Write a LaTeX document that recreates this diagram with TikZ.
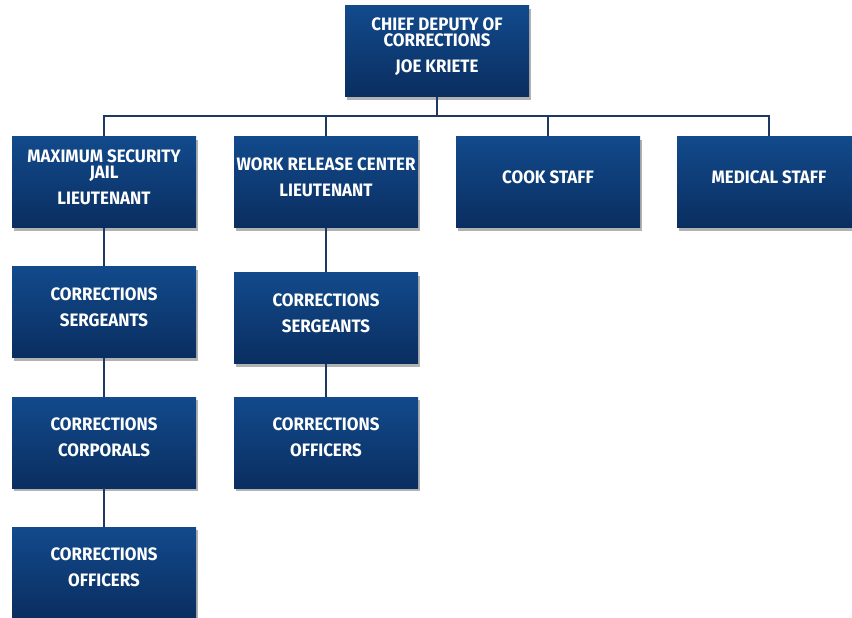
\documentclass[tikz,border=0pt]{standalone}
\usepackage{fontspec}
\setmainfont{Fira Sans}[FakeStretch=0.94]
\usetikzlibrary{shadows}
\definecolor{boxtop}{HTML}{124A8C}
\definecolor{boxbot}{HTML}{0A2E60}
\definecolor{linec}{HTML}{1C3863}
\tikzset{
  box/.style={rectangle, minimum width=184pt, minimum height=91pt, inner sep=0pt,
    top color=boxtop, bottom color=boxbot, draw=none,
    drop shadow={shadow xshift=2pt, shadow yshift=-3pt, fill=black, opacity=0.3}},
  txt/.style={text=white, align=center, font=\bfseries\fontsize{18}{26}\selectfont, inner sep=0pt},
  conn/.style={draw=linec, line width=1.8pt}
}
\begin{document}
\begin{tikzpicture}[x=1pt,y=-1pt]
\useasboundingbox (0,0) rectangle (852,618);
\node[box] (top) at (437,51.5) {};
\node[box] (b1) at (104,182) {};
\node[box] (b2) at (326,182) {};
\node[box] (b3) at (548,182) {};
\node[box] (b4) at (769,182) {};
\node[box] (c1) at (104,312) {};
\node[box] (d1) at (104,442.5) {};
\node[box] (e1) at (104,572.5) {};
\node[box] (c2) at (326,318) {};
\node[box] (d2) at (326,442.5) {};
\draw[conn] (top.south) -- ++(0,19) coordinate (bus);
\draw[conn] (b1.north) |- (bus) -| (b4.north);
\draw[conn] (b2.north) -- (b2.north |- bus);
\draw[conn] (b3.north) -- (b3.north |- bus);
\draw[conn] (b1.south) -- (c1.north);
\draw[conn] (c1.south) -- (d1.north);
\draw[conn] (d1.south) -- (e1.north);
\draw[conn] (b2.south) -- (c2.north);
\draw[conn] (c2.south) -- (d2.north);
\node[txt] (ttop) at ([yshift=5pt]top.center) {CHIEF DEPUTY OF\\[-9.5pt]CORRECTIONS\\JOE KRIETE};
\node[txt] (tb1) at ([yshift=5pt]b1.center) {MAXIMUM SECURITY\\[-10pt]JAIL\\LIEUTENANT};
\node[txt] (tb2) at ([yshift=5pt]b2.center) {WORK RELEASE CENTER\\LIEUTENANT};
\node[txt] (tb3) at ([yshift=5pt]b3.center) {COOK STAFF};
\node[txt] (tb4) at ([yshift=5pt]b4.center) {MEDICAL STAFF};
\node[txt] (tc1) at ([yshift=5pt]c1.center) {CORRECTIONS\\SERGEANTS};
\node[txt] (td1) at ([yshift=5pt]d1.center) {CORRECTIONS\\CORPORALS};
\node[txt] (te1) at ([yshift=5pt]e1.center) {CORRECTIONS\\OFFICERS};
\node[txt] (tc2) at ([yshift=5pt]c2.center) {CORRECTIONS\\SERGEANTS};
\node[txt] (td2) at ([yshift=5pt]d2.center) {CORRECTIONS\\OFFICERS};
\end{tikzpicture}
\end{document}
